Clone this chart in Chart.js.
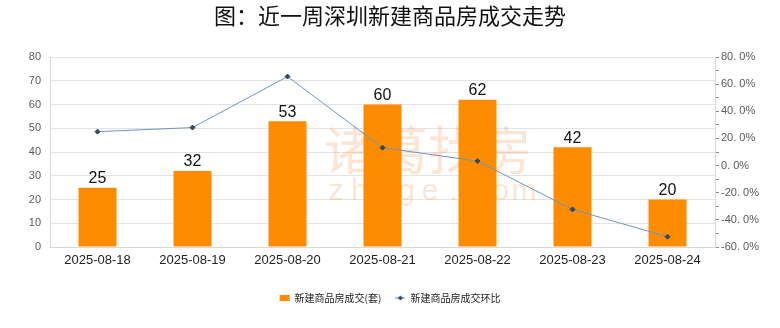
<!DOCTYPE html>
<html>
<head>
<meta charset="utf-8">
<script src="https://cdn.jsdelivr.net/npm/chart.js@4"></script>
<style>
  html, body { margin: 0; padding: 0; background: #fff; }
  #wrap { width: 780px; height: 328px; position: relative; }
</style>
</head>
<body>
<div id="wrap"><canvas id="chart" width="780" height="328"></canvas></div>
<script>
const days = ['2025-08-18', '2025-08-19', '2025-08-20', '2025-08-21', '2025-08-22', '2025-08-23', '2025-08-24'];
const deals = [25, 32, 53, 60, 62, 42, 20];
const changePct = [25.0, 28.0, 65.6, 13.2, 3.3, -32.3, -52.4];
const titleText = '图：近一周深圳新建商品房成交走势';
const barName = '新建商品房成交(套)';
const lineName = '新建商品房成交环比';

const latin = '"Liberation Sans", Arial, "Noto Sans CJK SC", sans-serif';
const cjk = '"Noto Sans CJK SC", "Liberation Sans", sans-serif';

// small icon for the line legend item: a short line with a diamond
function lineIcon() {
    const c = document.createElement('canvas');
    c.width = 10; c.height = 6;
    const g = c.getContext('2d');
    g.strokeStyle = '#6d95bf';
    g.lineWidth = 1;
    g.beginPath(); g.moveTo(0, 3); g.lineTo(10, 3); g.stroke();
    g.fillStyle = '#34495e';
    g.beginPath(); g.moveTo(5, 0.5); g.lineTo(7.5, 3); g.lineTo(5, 5.5); g.lineTo(2.5, 3); g.closePath(); g.fill();
    return c;
}

const extras = {
    id: 'extras',
    beforeDatasetsDraw(chart) {
        const ctx = chart.ctx;
        // faint watermark
        ctx.save();
        ctx.fillStyle = 'rgba(245, 170, 110, 0.3)';
        ctx.textAlign = 'center';
        ctx.textBaseline = 'middle';
        ctx.font = '52px ' + cjk;
        ctx.fillText('诸葛找房', 428, 150);
        ctx.font = '30px ' + latin;
        'zhuge.com'.split('').forEach((ch, i) => ctx.fillText(ch, 336 + i * 23.5, 192));
        ctx.restore();
    },
    afterDraw(chart) {
        const ctx = chart.ctx;
        ctx.save();
        ctx.fillStyle = '#111';
        ctx.textAlign = 'center';
        ctx.textBaseline = 'middle';
        ctx.font = '22px ' + cjk;
        ctx.fillText(titleText, 390, 16);
        ctx.restore();

        // values above bars
        const meta = chart.getDatasetMeta(1);
        ctx.save();
        ctx.fillStyle = '#111';
        ctx.textAlign = 'center';
        ctx.textBaseline = 'bottom';
        ctx.font = '16px ' + latin;
        meta.data.forEach((bar, i) => {
            ctx.fillText(String(deals[i]), bar.x, bar.y - 1);
        });
        ctx.restore();
    }
};

new Chart(document.getElementById('chart'), {
    data: {
        labels: days,
        datasets: [
            {
                type: 'line',
                label: lineName,
                data: changePct,
                yAxisID: 'y1',
                borderColor: '#6d95bf',
                borderWidth: 1,
                pointStyle: 'rectRot',
                pointRadius: 2.5,
                pointBackgroundColor: '#34495e',
                pointBorderColor: '#34495e',
                tension: 0,
                order: 0
            },
            {
                type: 'bar',
                label: barName,
                data: deals,
                yAxisID: 'y',
                backgroundColor: '#ff8c00',
                barPercentage: 0.4,
                categoryPercentage: 1.0,
                order: 1
            }
        ]
    },
    options: {
        responsive: false,
        animation: false,
        layout: { padding: { top: 57, left: 0, right: 0, bottom: 15 } },
        plugins: {
            tooltip: { enabled: false },
            legend: {
                position: 'bottom',
                reverse: true,
                labels: {
                    usePointStyle: true,
                    boxHeight: 6,
                    pointStyleWidth: 10,
                    padding: 14,
                    color: '#222',
                    font: { family: cjk, size: 10 },
                    generateLabels(chart) {
                        const items = Chart.defaults.plugins.legend.labels.generateLabels(chart);
                        items.forEach(it => {
                            if (it.datasetIndex === 1) {
                                it.pointStyle = 'rect';
                                it.fillStyle = '#ff8c00';
                                it.strokeStyle = '#ff8c00';
                                it.lineWidth = 0;
                            } else {
                                it.pointStyle = lineIcon();
                            }
                        });
                        return items;
                    }
                }
            }
        },
        scales: {
            x: {
                grid: { display: false, drawTicks: false },
                border: { color: '#d9d9d9' },
                ticks: { color: '#222', padding: 6, font: { family: latin, size: 13 } },
                afterFit(s) { s.height = 32; }
            },
            y: {
                position: 'left',
                min: 0, max: 80,
                ticks: { stepSize: 10, color: '#595959', padding: 9, font: { family: latin, size: 11 } },
                grid: { color: '#e3e3e3', drawTicks: false },
                border: { color: '#d9d9d9' },
                afterFit(s) { s.width = 50; }
            },
            y1: {
                position: 'right',
                min: -60, max: 80,
                ticks: {
                    stepSize: 10,
                    autoSkip: false,
                    color: '#595959',
                    padding: 2,
                    font: { family: latin, size: 11 },
                    callback: v => (v % 20 === 0 ? v.toFixed(1).replace('.', '. ') + '%' : '')
                },
                grid: { drawOnChartArea: false, drawTicks: true, tickLength: 4, color: '#8c8c8c' },
                border: { color: '#d9d9d9' },
                afterFit(s) { s.width = 65; }
            }
        }
    },
    plugins: [extras]
});
</script>
</body>
</html>
